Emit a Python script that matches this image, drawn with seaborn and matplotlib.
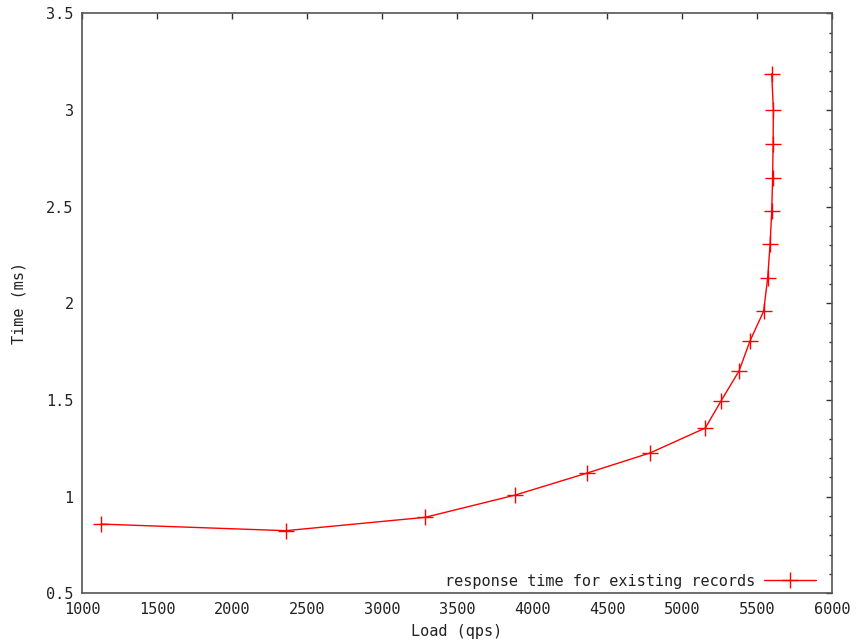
import numpy as np
import pandas as pd
import matplotlib
matplotlib.use("Agg")
import matplotlib.pyplot as plt
import seaborn as sns
from matplotlib.ticker import MultipleLocator

# load (qps) and response time (ms)
load_qps = [1127, 2358, 3287, 3887, 4367, 4787, 5155, 5260, 5380, 5453,
            5544, 5571, 5587, 5598, 5604, 5607, 5609, 5598]
time_ms = [0.858, 0.824, 0.893, 1.008, 1.122, 1.226, 1.355, 1.495, 1.650, 1.805,
           1.959, 2.131, 2.305, 2.478, 2.650, 2.822, 3.000, 3.188]
series_name = "response time for existing records"

df = pd.DataFrame({"Load (qps)": load_qps, "Time (ms)": time_ms})

sns.set_style("white")
plt.rcParams['font.family'] = ['DejaVu Sans Mono']
plt.rcParams['font.size'] = 11

fig = plt.figure(figsize=(8.59, 6.41), dpi=100)
ax = fig.add_axes([0.0955, 0.0744, 0.8731, 0.9048])

# estimator=None so the repeated x value is not averaged
sns.lineplot(data=df, x="Load (qps)", y="Time (ms)", sort=False, ax=ax,
             estimator=None, errorbar=None,
             color="red", linewidth=1.0, marker="+", markersize=11,
             markeredgewidth=1.0, markeredgecolor="red", label=series_name)

ax.set_xlim(1000, 6000)
ax.set_ylim(0.5, 3.5)
ax.xaxis.set_major_locator(MultipleLocator(500))
ax.yaxis.set_major_locator(MultipleLocator(0.5))
ax.yaxis.set_minor_locator(MultipleLocator(0.1))
ax.yaxis.set_major_formatter(plt.FuncFormatter(lambda v, p: f"{v:g}"))

ax.tick_params(which="both", direction="in", top=True, right=True,
               color="#333333", labelcolor="#222222")
ax.tick_params(which="major", length=4.5, width=1.0, pad=6)
ax.tick_params(which="minor", length=2.5, width=1.0)
for s in ax.spines.values():
    s.set_color("#555555")
    s.set_linewidth(1.2)

ax.set_xlabel("Load (qps)", labelpad=5, color="#222222")
ax.set_ylabel("Time (ms)", labelpad=14, color="#222222")

ax.legend(loc="lower right", frameon=False, markerfirst=False,
          handlelength=3.4, borderaxespad=0.0, handletextpad=0.6,
          borderpad=0.3, fontsize=11, labelcolor="#222222",
          bbox_to_anchor=(0.985, 0.0))

fig.savefig("out.png", dpi=100)
